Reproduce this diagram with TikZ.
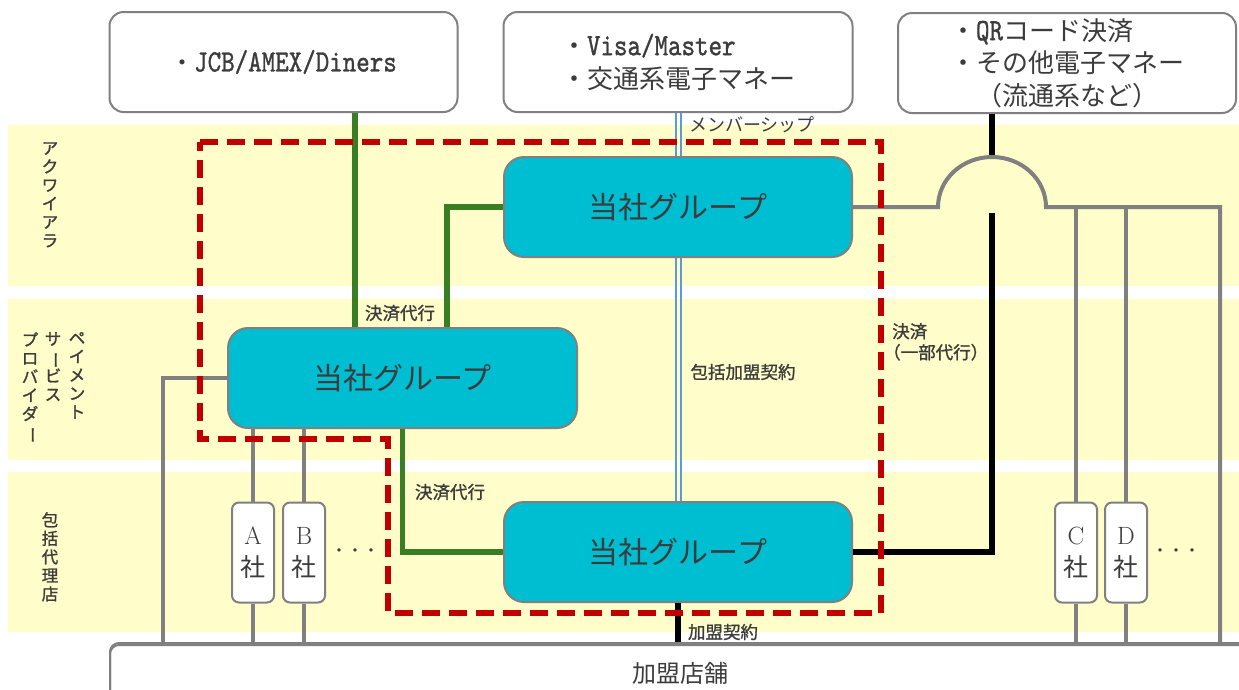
\documentclass[tikz,border=0pt]{standalone}
\usepackage{fontspec}
\usepackage{graphicx}
\newfontfamily\jp{Noto Sans CJK JP}
\newfontfamily\jpm{Noto Sans CJK JP}[FakeBold=1.2]
\newfontfamily\lmm{lmmono10-regular.otf}[FakeBold=1.2]
\definecolor{bandc}{HTML}{FFFDC9}
\definecolor{cyanc}{HTML}{00BED2}
\definecolor{txt}{HTML}{3C3C3C}
\definecolor{linegray}{HTML}{808080}
\definecolor{greenc}{HTML}{3A7E23}
\definecolor{redc}{HTML}{C00000}
\definecolor{bluec}{HTML}{5B9BD5}
\newcommand\vbar{\rotatebox[origin=c]{-90}{ー}}
\newcommand\lat[1]{\scalebox{0.83}[1]{\lmm\fontsize{31}{31}\selectfont #1}}
\tikzset{
  card/.style={draw=linegray, line width=2pt, fill=white, rounded corners=14pt, text=txt, minimum height=100pt, inner sep=0pt},
  grp/.style={draw=linegray, line width=2pt, fill=cyanc, rounded corners=20pt, minimum width=348pt, minimum height=100pt, text=txt, font=\jp\fontsize{30}{30}\selectfont},
  co/.style={draw=linegray, line width=2pt, fill=white, rounded corners=7pt, minimum width=42pt, minimum height=100pt, inner sep=0pt, align=center, text=txt, font=\fontsize{25}{32}\selectfont},
  shopbox/.style={draw=linegray, line width=2pt, fill=white, rounded corners=9pt, text=txt, font=\jp\fontsize{24}{24}\selectfont},
  grayline/.style={draw=linegray, line width=4pt},
  greenline/.style={draw=greenc, line width=5.5pt},
  blackline/.style={draw=black, line width=6pt},
  blueline/.style={draw=bluec, line width=2pt},
  redbox/.style={draw=redc, line width=6pt, dash pattern=on 18pt off 9pt},
  lbl/.style={text=txt, inner sep=0pt, font=\jpm\fontsize{17.5}{21}\selectfont},
  vlbl/.style={text=txt, inner sep=0pt, align=center, font=\jpm\fontsize{16.5}{18.5}\selectfont},
}
\begin{document}
\begin{tikzpicture}[x=1pt,y=-1pt]
\useasboundingbox (0,0) rectangle (1239,689);
\clip (0,0) rectangle (1239,689);
% bands
\fill[bandc] (8,125) rectangle (1239,286);
\fill[bandc] (8,299) rectangle (1239,460);
\fill[bandc] (8,472) rectangle (1239,632);
% band labels
\node[vlbl, anchor=north] (lacq) at (50,142) {ア\\ク\\ワ\\イ\\ア\\ラ};
\node[vlbl, anchor=north] (lpsp1) at (77,332) {ペ\\イ\\メ\\ン\\ト};
\node[vlbl, anchor=north] (lpsp2) at (53,332) {サ\\\vbar\\ビ\\ス};
\node[vlbl, anchor=north] (lpsp3) at (30,332) {プ\\ロ\\バ\\イ\\ダ\\\vbar};
\node[vlbl, anchor=north] (lagt) at (50,512) {包\\括\\代\\理\\店};
% nodes
\node[card, minimum width=348pt, font=\fontsize{24}{28}\selectfont] (card1) at (283.5,62) {{\jp ・}\lat{JCB/AMEX/Diners}};
\node[card, minimum width=349pt, align=left, font=\fontsize{26}{33}\selectfont] (card2) at (678,62) {{\jp ・}\lat{Visa/Master}\\{\jp ・交通系電子マネー}};
\node[card, minimum width=338pt, align=left, font=\fontsize{26}{32.5}\selectfont] (card3) at (1067,63) {{\jp ・}\lat{QR}{\jp コード決済}\\{\jp ・その他電子マネー}\\\makebox[234pt][c]{\jp （流通系など）}};
\node[shopbox, minimum width=1140pt, minimum height=60pt] (shop) at (680,675) {};
\node[co] (boxA) at (253,552.5) {A\\{\jp 社}};
\node[co] (boxB) at (304,552.5) {B\\{\jp 社}};
\node[co] (boxC) at (1076,552.5) {C\\{\jp 社}};
\node[co] (boxD) at (1126,552.5) {D\\{\jp 社}};
\coordinate (hc) at (992,207);
\coordinate (r3) at (1220,207);
\coordinate (lx) at (163,645);
\node[grp] (grpB) at (678,552) {当社グループ};
\node[grp, minimum width=349pt] (grpP) at (402.5,378) {当社グループ};
% blue double line behind the top group box
\draw[blueline] ([xshift=-2.5pt]card2.south) -- ([xshift=-2.5pt]grpB.north);
\draw[blueline] ([xshift=2.5pt]card2.south) -- ([xshift=2.5pt]grpB.north);
\node[grp] (grpA) at (678,207) {当社グループ};
% green
\draw[greenline] ([xshift=71.5pt]card1.south) -- ([xshift=71.5pt]card1.south |- grpP.north);
\draw[greenline] (grpA.west) -| ([xshift=44.5pt]grpP.north);
\draw[greenline] (grpP.south) |- (grpB.west);
% gray
\draw[grayline] (grpP.west) -| (lx);
\draw[grayline] (boxA |- grpP.south) -- (boxA.north);
\draw[grayline] (boxA.south) -- (boxA |- shop.north);
\draw[grayline] (boxB |- grpP.south) -- (boxB.north);
\draw[grayline] (boxB.south) -- (boxB |- shop.north);
% black
\draw[blackline] ([xshift=-75pt]card3.south) -- ([yshift=50pt]hc);
\draw[blackline] ([yshift=-6pt]hc) |- (grpB.east);
\draw[blackline] (grpB.south) -- (grpB.south |- shop.north);
\draw[grayline, line join=miter] (grpA.east) -- ([xshift=-54pt]hc) arc[start angle=180, end angle=0, x radius=54pt, y radius=50pt] -- (r3) -- (r3 |- shop.north);
\draw[grayline] (boxC |- r3) -- (boxC.north);
\draw[grayline] (boxC.south) -- (boxC |- shop.north);
\draw[grayline] (boxD |- r3) -- (boxD.north);
\draw[grayline] (boxD.south) -- (boxD |- shop.north);
\node[shopbox, minimum width=1140pt, minimum height=60pt, fill=none] (shoplabel) at (680,673) {加盟店舗};
% red dashed region
\draw[redbox] (200,142) -- (881,142) -- (881,613) -- (388,613) -- (388,439) -- (200,439) -- cycle;
% labels
\node[lbl] (l1) at (400,313) {決済代行};
\node[lbl] (l2) at (450,492) {決済代行};
\node[lbl, font=\jp\fontsize{18}{21}\selectfont] (l3) at (752,125) {メンバーシップ};
\node[lbl] (l4) at (743,372) {包括加盟契約};
\node[lbl, anchor=north west, align=left] (l5) at (883,323) {\hspace*{9pt}決済\\（一部代行）};
\node[lbl] (l6) at (723,632) {加盟契約};
\node[text=txt, font=\jp\fontsize{16}{16}\selectfont, inner sep=0pt] (dots1) at (355,553) {・・・};
\node[text=txt, font=\jp\fontsize{16}{16}\selectfont, inner sep=0pt] (dots2) at (1176,553) {・・・};
\end{tikzpicture}
\end{document}
